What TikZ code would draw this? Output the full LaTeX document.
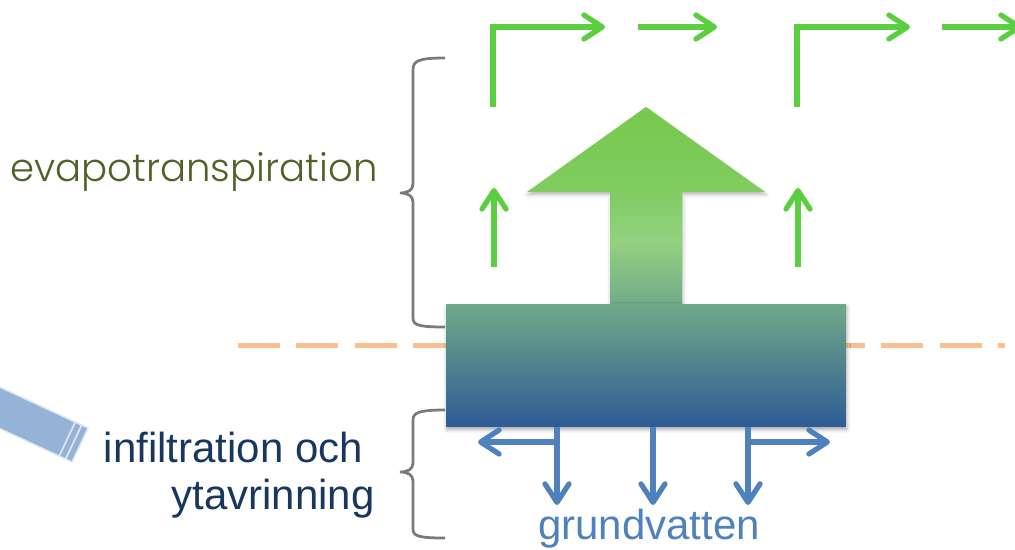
\documentclass[tikz,border=0pt]{standalone}
\usepackage{fontspec}
\setmainfont{Liberation Sans}
\newfontfamily\evafont{Poppins Light}
\usepackage{xcolor}
\usepackage{tikz}
\usetikzlibrary{calc, arrows.meta, positioning, shadows.blur}

\definecolor{leafgreen}{HTML}{5BCF3F}
\definecolor{evagreen}{HTML}{4F6228}
\definecolor{waterblue}{HTML}{4F81BD}
\definecolor{darknavy}{HTML}{17375E}
\definecolor{sandorange}{HTML}{FAC090}
\definecolor{bracegray}{HTML}{7A7A7A}
\definecolor{soiltop}{HTML}{70A988}
\definecolor{soilbot}{HTML}{2E5B96}
\definecolor{arrowtop}{HTML}{76C94C}
\definecolor{arrowhead}{HTML}{80CC62}
\definecolor{arrowmid}{HTML}{93D181}
\definecolor{pencilblue}{HTML}{95B3D7}
\definecolor{pencillight}{HTML}{DCE6F2}

\pgfdeclareverticalshading{upflow}{100bp}{color(0bp)=(soiltop); color(25bp)=(soiltop); color(41bp)=(arrowmid); color(54bp)=(arrowhead); color(75bp)=(arrowtop); color(100bp)=(arrowtop)}

\begin{document}
\begin{tikzpicture}[x=0.02cm, y=-0.02cm, >=latex]
		\tikzstyle{flow} = [line width=0.105cm, leafgreen, -{Straight Barb[length=3.7mm, width=4.8mm, round]}]
		\tikzstyle{seep} = [line width=0.105cm, waterblue, -{Straight Barb[length=3.7mm, width=4.8mm, round]}]
		\tikzstyle{brace} = [line width=0.055cm, bracegray]
		\tikzstyle{soilbox} = [inner sep=0, minimum width=8cm, minimum height=2.46cm, top color=soiltop, bottom color=soilbot, blur shadow={shadow xshift=0.5pt, shadow yshift=-1.5pt, shadow opacity=35}]
		\tikzstyle{evatext} = [inner sep=0, text=evagreen, font=\evafont\fontsize{22}{26}\selectfont]
		\tikzstyle{infotext} = [inner sep=0, text=darknavy, align=right, font=\fontsize{23.9}{27.3}\selectfont]
		\tikzstyle{gwtext} = [inner sep=0, text=waterblue, font=\fontsize{23.9}{27.3}\selectfont]

		\useasboundingbox (0,0) rectangle (1015,550);
		\clip (0,0) rectangle (1015,550);

		\fill[pencilblue] (-48,365) -- (88,428) -- (72,462) -- (-64,399) -- cycle;
		\draw[pencillight, line width=0.03cm] (-48,365) -- (88,428) -- (72,462) -- (-64,399);
		\draw[pencillight, line width=0.035cm] ($(88,428)!4pt!(-48,365)$) -- ($(72,462)!4pt!(-64,399)$);
		\draw[pencillight, line width=0.035cm] ($(88,428)!8pt!(-48,365)$) -- ($(72,462)!8pt!(-64,399)$);

		\draw[sandorange, line width=0.1cm, dash pattern=on 0.84cm off 0.33cm] (238,346) -- (1005,346);

		\coordinate (l1a) at (493,107);
		\coordinate (l1b) at (605,27);
		\coordinate (s1a) at (638,27);
		\coordinate (s1b) at (717,27);
		\coordinate (l2a) at (797,107);
		\coordinate (l2b) at (910,27);
		\coordinate (s2a) at (942,27);
		\coordinate (s2b) at (1022,27);
		\coordinate (u1a) at (494,267);
		\coordinate (u1b) at (494,188);
		\coordinate (u2a) at (798,267);
		\coordinate (u2b) at (798,188);

		\draw[flow] (l1a) |- (l1b);
		\draw[flow] (s1a) -- (s1b);
		\draw[flow] (l2a) |- (l2b);
		\draw[flow] (s2a) -- (s2b);
		\draw[flow] (u1a) -- (u1b);
		\draw[flow] (u2a) -- (u2b);

		\path[shading=upflow, blur shadow={shadow xshift=0.5pt, shadow yshift=-1.5pt, shadow opacity=30}]
		(646,107) -- (765,192) -- (682,192) -- (682,306) -- (610,306) -- (610,192) -- (527,192) -- cycle;

		\node[soilbox] (soil) at (646,365.5) {};

		\draw[seep] (soil.south -| 557,0) -- (557,505);
		\draw[seep] (soil.south -| 653,0) -- (653,505);
		\draw[seep] (soil.south -| 748,0) -- (748,505);
		\draw[seep] (559,442) -- (478,442);
		\draw[seep] (746,442) -- (830,442);

		\draw[brace] (445,58) .. controls (418,58) and (413,61) .. (413,70) -- (413,184) .. controls (413,190) and (408,193) .. (400,193) .. controls (408,193) and (413,196) .. (413,202) -- (413,318) .. controls (413,325) and (418,327) .. (445,327);
		\draw[brace] (445,410) .. controls (418,410) and (413,413) .. (413,420) -- (413,463) .. controls (413,469) and (408,472) .. (400,472) .. controls (408,472) and (413,475) .. (413,481) -- (413,529) .. controls (413,536) and (418,538) .. (445,538);

		\node[evatext, anchor=base west] (evap) at (10,182) {evapotranspiration};
		\node[infotext, anchor=base east] (infil) at (375,510) {infiltration och\hspace*{0.28em}\\ytavrinning};
		\node[gwtext, anchor=base] (gw) at (649,540) {grundvatten};
	\end{tikzpicture}
\end{document}
